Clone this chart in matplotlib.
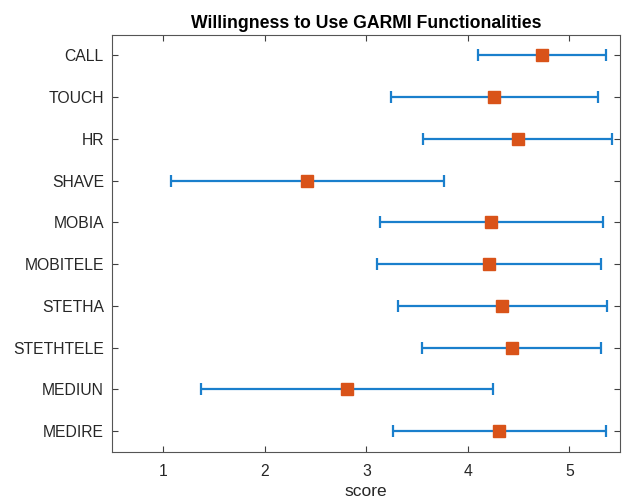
import matplotlib.pyplot as plt

plt.rcParams['font.family'] = ['Liberation Sans', 'DejaVu Sans']

categories = ["CALL", "TOUCH", "HR", "SHAVE", "MOBIA", "MOBITELE",
              "STETHA", "STETHTELE", "MEDIUN", "MEDIRE"]
means = [4.73, 4.26, 4.49, 2.42, 4.23, 4.21, 4.34, 4.43, 2.81, 4.31]
errors = [0.63, 1.02, 0.93, 1.34, 1.10, 1.10, 1.03, 0.88, 1.44, 1.05]

# top category first, like the original
ypos = list(range(len(categories), 0, -1))

fig = plt.figure(figsize=(6.31, 5.01), dpi=100)
ax = fig.add_axes([0.178, 0.098, 0.805, 0.833])

ax.errorbar(means, ypos, xerr=errors, fmt="none", ecolor="#1a7fcc",
            elinewidth=1.6, capsize=4.5, capthick=1.6, zorder=2)
ax.plot(means, ypos, "s", color="#D95319", markersize=9, zorder=3)

ax.set_xlim(0.5, 5.5)
ax.set_ylim(0.5, len(categories) + 0.5)
ax.set_xticks([1, 2, 3, 4, 5])
ax.set_yticks(ypos)
ax.set_yticklabels(categories)

ax.tick_params(direction="in", top=True, right=True, length=4,
               width=0.8, color="#404040", labelsize=11.3,
               labelcolor="#262626", pad=6)
ax.tick_params(axis="x", pad=9)
for s in ax.spines.values():
    s.set_color("#555555")
    s.set_linewidth(0.8)

ax.set_xlabel("score", fontsize=12.5, color="#262626", labelpad=3)
ax.set_title("Willingness to Use GARMI Functionalities", fontsize=12.7,
             fontweight="bold", color="#000000", pad=5)

fig.savefig("out.png", dpi=100)
plt.close(fig)
